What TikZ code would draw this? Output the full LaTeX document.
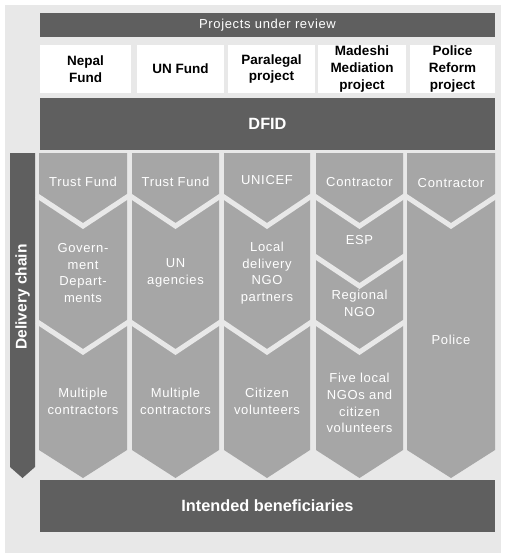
\documentclass[tikz,border=0pt]{standalone}
\usepackage{fontspec}
\setmainfont{Liberation Sans}
\newfontfamily\spacedfont[LetterSpace=5]{Liberation Sans}
\usepackage{tikz}
\definecolor{bggrey}{HTML}{E8E8E8}
\definecolor{darkgrey}{HTML}{5F5F5F}
\definecolor{chevgrey}{HTML}{A6A6A6}

\begin{document}
\begin{tikzpicture}[x=1pt,
                    y=-1pt,
                    bar/.style={fill=darkgrey, text=white, inner sep=0pt, minimum width=455pt},
                    proj/.style={fill=white, inner sep=0pt, align=center, minimum height=48pt,
                                 font=\fontsize{13.5}{16.8}\selectfont\bfseries},
                    lbl/.style={text=white, align=center, inner sep=0pt,
                                font=\spacedfont\fontsize{13}{16.7}\selectfont},
                    gap/.style={draw=bggrey, line width=5pt, line join=miter},
                    %chev/.style={fill=chevgrey}
                    ]
  \useasboundingbox (0,0) rectangle (508,560);
  \fill[bggrey] (5,5) rectangle (501,553);

  % projects and DFID
  \node[bar, minimum height=24pt, font=\spacedfont\fontsize{13}{16}\selectfont] (review) at (267.5,25) {Projects under review};
  \node[proj, minimum width=91pt] (nepal) at (85.5,69) {Nepal\\Fund};
  \node[proj, minimum width=87pt] (unfund) at (180.5,69) {UN Fund};
  \node[proj, minimum width=87pt] (paralegal) at (271.5,69) {Paralegal\\project};
  \node[proj, minimum width=88pt] (madeshi) at (362,69) {Madeshi\\Mediation\\project};
  \node[proj, minimum width=85pt] (police) at (452.5,69) {Police\\Reform\\project};
  \node[bar, minimum height=52pt, font=\fontsize{16.3}{19}\selectfont\bfseries] (dfid) at (267.5,124) {DFID};

  % delivery chain
  \fill[darkgrey] (10,153) -- (35,153) -- (35,467) -- (22.5,478) -- (10,467) -- cycle;
  \node[rotate=90, text=white, inner sep=0pt, font=\fontsize{15.5}{18}\selectfont\bfseries] (chain) at (22.5,297) {Delivery chain};

  % chevron columns
  \foreach \xl/\xr in {39/127, 132/219, 224/310, 316/403, 407/495}
    \fill[chevgrey] (\xl,153) -- (\xr,153) -- (\xr,450) -- ({(\xl+\xr)/2},478) -- (\xl,450) -- cycle;
  \foreach \xl/\xr/\yb in {39/127/197, 132/219/197, 224/310/197, 316/403/197, 407/495/197,
                           39/127/323, 132/219/323, 224/310/323, 316/403/323,
                           316/403/257}
    \draw[gap] (\xl-2,\yb-1.3) -- ({(\xl+\xr)/2},\yb+29) -- (\xr+2,\yb-1.3);

  \node[lbl] (trust1) at (83,182) {Trust Fund};
  \node[lbl] (govdep) at (83,273) {Govern-\\ment\\Depart-\\ments};
  \node[lbl] (multi1) at (83,401) {Multiple\\contractors};
  \node[lbl] (trust2) at (175.5,182) {Trust Fund};
  \node[lbl] (unagency) at (175.5,273) {UN\\agencies};
  \node[lbl] (multi2) at (175.5,401) {Multiple\\contractors};
  \node[lbl] (unicef) at (267,180) {UNICEF};
  \node[lbl] (localngo) at (267,273) {Local\\delivery\\NGO\\partners};
  \node[lbl] (citizen) at (267,401) {Citizen\\volunteers};
  \node[lbl] (contr4) at (359.5,182) {Contractor};
  \node[lbl] (esp) at (359.5,240) {ESP};
  \node[lbl] (regional) at (359.5,303) {Regional\\NGO};
  \node[lbl] (fivengo) at (359.5,403) {Five local\\NGOs and\\citizen\\volunteers};
  \node[lbl] (contr5) at (451,183) {Contractor};
  \node[lbl] (policeforce) at (451,340) {Police};

  % beneficiaries
  \node[bar, minimum height=52pt, font=\fontsize{16.3}{19}\selectfont\bfseries] (benef) at (267.5,506) {Intended beneficiaries};
\end{tikzpicture}
\end{document}
